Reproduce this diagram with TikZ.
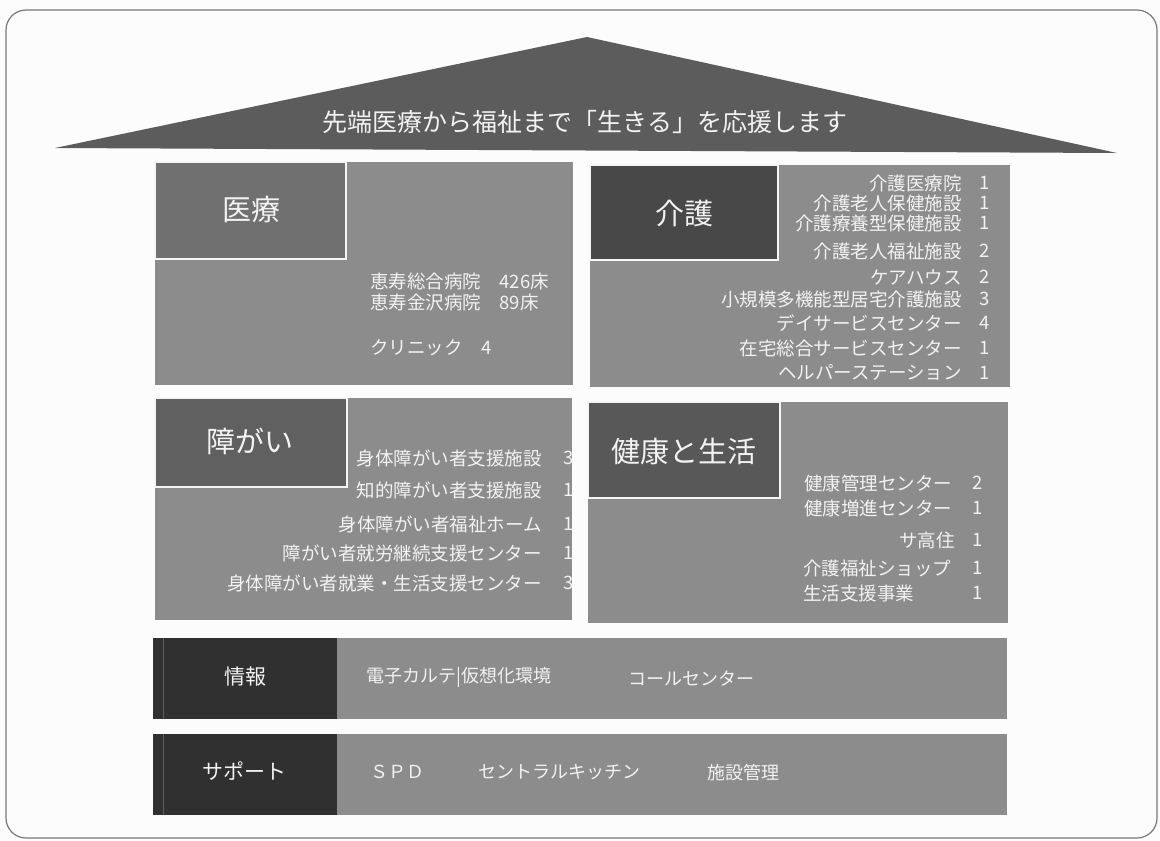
\documentclass[tikz,border=0pt]{standalone}
\usepackage{fontspec}
\setmainfont{Noto Sans CJK JP}
\definecolor{bg}{RGB}{252,252,252}
\definecolor{framec}{RGB}{120,120,120}
\definecolor{roofc}{RGB}{92,92,92}
\definecolor{midc}{RGB}{140,140,140}
\definecolor{labA}{RGB}{112,112,112}
\definecolor{labB}{RGB}{72,72,72}
\definecolor{labC}{RGB}{96,96,96}
\definecolor{labD}{RGB}{88,88,88}
\definecolor{labE}{RGB}{48,48,48}
\definecolor{stripe}{RGB}{95,95,95}
\definecolor{txt}{RGB}{242,242,242}
\tikzset{
  every node/.style={inner sep=0pt, text=txt},
  labbox/.style={draw=white!92!gray, line width=1.3pt},
  itemf/.style={font=\fontsize{18.5}{20}\selectfont},
  headf/.style={font=\fontsize{29}{32}\selectfont},
  barhead/.style={font=\fontsize{21}{24}\selectfont},
  barf/.style={font=\fontsize{18}{20}\selectfont},
}
\begin{document}
\begin{tikzpicture}[x=1pt,y=-1pt]
\useasboundingbox (0,0) rectangle (1160,841);
\fill[bg] (0,0) rectangle (1160,841);
\draw[framec, line width=1.2pt, rounded corners=20pt] (6,10) rectangle (1157,838);

% roof
\fill[roofc] (55,148) -- (587,37) -- (1117,153) -- cycle;
\node[font=\fontsize{25}{28}\selectfont] (motto) at (585,122) {先端医療から福祉まで「生きる」を応援します};

% 医療
\fill[midc] (155,162) rectangle (573,385);
\filldraw[labA, labbox] (155,162) rectangle (346,259);
\node[headf] (iryo) at (251,209) {医療};
\node[itemf, anchor=west] (i1) at (370,281) {恵寿総合病院　426床};
\node[itemf, anchor=west] (i2) at (370,302) {恵寿金沢病院　89床};
\node[itemf, anchor=west] (i3) at (370,348) {クリニック　4};

% 介護
\fill[midc] (590,165) rectangle (1010,387);
\filldraw[labB, labbox] (590,165) rectangle (778,260);
\node[headf] (kaigo) at (684,213) {介護};
\foreach \t/\n/\y [count=\k] in {介護医療院/1/183, 介護老人保健施設/1/203, 介護療養型保健施設/1/223, 介護老人福祉施設/2/251, ケアハウス/2/277, 小規模多機能型居宅介護施設/3/299, デイサービスセンター/4/323, 在宅総合サービスセンター/1/348, ヘルパーステーション/1/373}{
  \node[itemf, anchor=east] (k\k) at (962,\y) {\t};
  \node[itemf] (kn\k) at (985,\y) {\n};
}

% 障がい
\fill[midc] (155,398) rectangle (572,620);
\filldraw[labC, labbox] (155,398) rectangle (347,487);
\node[headf] (shogai) at (250,441) {障がい};
\begin{scope}
\clip (155,398) rectangle (572,620);
\foreach \t/\n/\y [count=\k] in {身体障がい者支援施設/3/458, 知的障がい者支援施設/1/490, 身体障がい者福祉ホーム/1/524, 障がい者就労継続支援センター/1/553, 身体障がい者就業・生活支援センター/3/583}{
  \node[itemf, anchor=east] (s\k) at (542,\y) {\t};
  \node[itemf, anchor=west] (sn\k) at (563,\y) {\n};
}
\end{scope}

% 健康と生活
\fill[midc] (588,402) rectangle (1008,623);
\filldraw[labD, labbox] (588,402) rectangle (780,498);
\node[headf] (kenko) at (684,452) {健康と生活};
\node[itemf, anchor=west] (h1) at (804,483) {健康管理センター};
\node[itemf] (hn1) at (978,483) {2};
\node[itemf, anchor=west] (h2) at (804,508) {健康増進センター};
\node[itemf] (hn2) at (978,508) {1};
\node[itemf, anchor=east] (h3) at (955,540) {サ高住};
\node[itemf] (hn3) at (978,540) {1};
\node[itemf, anchor=west] (h4) at (803,568) {介護福祉ショップ};
\node[itemf] (hn4) at (978,568) {1};
\node[itemf, anchor=west] (h5) at (803,593) {生活支援事業};
\node[itemf] (hn5) at (978,593) {1};

% 情報
\fill[midc] (153,638) rectangle (1007,719);
\fill[labE] (153,638) rectangle (337,719);
\draw[stripe, line width=0.8pt] (163,638) -- (163,719);
\node[barhead] (joho) at (245,677) {情報};
\node[barf, anchor=west] (j1) at (366,677) {電子カルテ|仮想化環境};
\node[barf, anchor=west] (j2) at (628,679) {コールセンター};

% サポート
\fill[midc] (153,734) rectangle (1007,815);
\fill[labE] (153,734) rectangle (337,815);
\draw[stripe, line width=0.8pt] (163,734) -- (163,815);
\node[barhead] (support) at (244,771) {サポート};
\node[barf, anchor=west] (p1) at (370,772) {ＳＰＤ};
\node[barf, anchor=west] (p2) at (478,772) {セントラルキッチン};
\node[barf, anchor=west] (p3) at (707,773) {施設管理};
\end{tikzpicture}
\end{document}
